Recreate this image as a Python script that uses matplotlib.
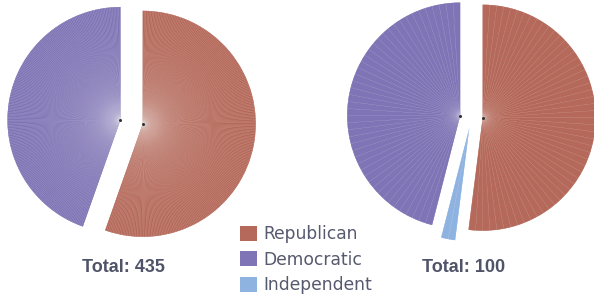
import matplotlib.pyplot as plt
from matplotlib.patches import Patch
import numpy as np

# seats per party (115th Congress)
parties = ['Republican', 'Democratic', 'Independent']
colors = ['#b5695a', '#7f74b5', '#8fb3e1']
house_seats = [241, 194, 0]
senate_seats = [52, 46, 2]

# clockwise drawing order from 12 o'clock: Republican, Independent, Democratic
draw_order = [0, 2, 1]

W, H = 594, 295
R = 113
EXPLODE = 11.3


def draw_chamber(ax, seats, cx, cy):
    total = sum(seats)
    start = 90.0
    for i in draw_order:
        n, col = seats[i], colors[i]
        if n == 0:
            continue
        span = 360.0 * n / total
        mid = np.radians(start - span / 2)
        gx = cx + EXPLODE * np.cos(mid)
        gy = cy + EXPLODE * np.sin(mid)
        # solid block for the party, then one thin-edged wedge per seat on top
        ax.pie([n / total], normalize=False, startangle=start,
               counterclock=False, center=(gx, gy), radius=R, colors=[col],
               wedgeprops=dict(linewidth=0))
        ax.pie([1.0 / total] * n, normalize=False, startangle=start,
               counterclock=False, center=(gx, gy), radius=R, colors=[col] * n,
               wedgeprops=dict(edgecolor=(1, 1, 1, 0.35), linewidth=0.15))
        if n > 2:
            ax.plot(gx, gy, 'o', color='#333333', markersize=1.2, zorder=5)
        start -= span
    ax.text(cx - 8, H - 268, 'Total: %d' % total, ha='center', va='center',
            fontsize=13, fontweight='bold', color='#4f5468',
            family='Liberation Sans')


fig = plt.figure(figsize=(W / 100, H / 100), dpi=100)
ax = fig.add_axes([0, 0, 1, 1])

draw_chamber(ax, house_seats, 131.6, H - 121.9)
draw_chamber(ax, senate_seats, 471.4, H - 117.0)

# pie() resets the limits, so set them afterwards
ax.set_xlim(0, W)
ax.set_ylim(0, H)
ax.set_aspect('equal')
ax.axis('off')

handles = [Patch(facecolor=c, edgecolor='none') for c in colors]
fig.legend(handles, parties, loc='upper left', bbox_to_anchor=(240 / W, 1 - 225 / H),
           frameon=False, borderpad=0, borderaxespad=0, fontsize=12.3,
           handlelength=1.0, handleheight=1.0, handletextpad=0.35,
           labelspacing=0.45, labelcolor='#565a6e')

fig.savefig('out.png', dpi=100)
